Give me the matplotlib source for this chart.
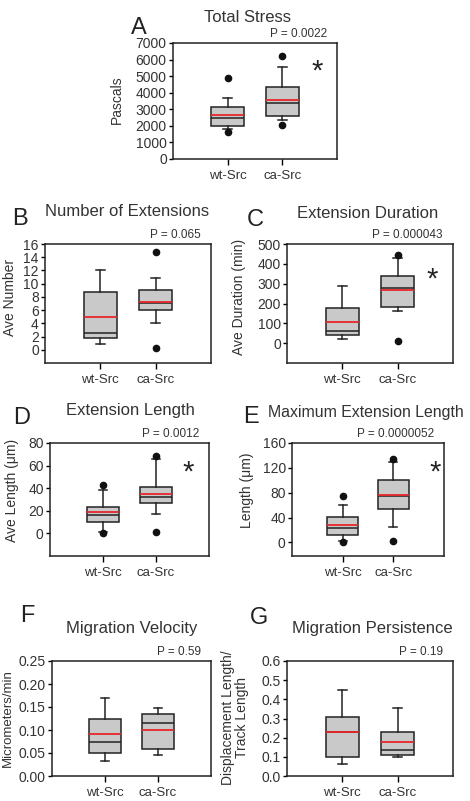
import numpy as np
import matplotlib.pyplot as plt
from matplotlib.ticker import FormatStrFormatter

plt.rcParams['font.family'] = ['Liberation Sans', 'DejaVu Sans']

groups = ['wt-Src', 'ca-Src']

# A - total stress (Pascals)
stress_q1 = [1970, 2570]
stress_med = [2470, 3380]
stress_q3 = [3140, 4345]
stress_lo = [1830, 2330]
stress_hi = [3680, 5550]
stress_mean = [2630, 3580]
stress_out = [[4890, 1600], [6230, 2070]]

# B - number of extensions
num_q1 = [1.8, 5.97]
num_med = [2.5, 7.1]
num_q3 = [8.76, 9.0]
num_lo = [0.9, 4.05]
num_hi = [12.05, 10.9]
num_mean = [4.9, 7.3]
num_out = [[], [14.8, 0.25]]

# C - extension duration (min)
dur_q1 = [39, 184]
dur_med = [59, 277]
dur_q3 = [176, 339]
dur_lo = [20, 160]
dur_hi = [289, 428]
dur_mean = [107, 268]
dur_out = [[], [444, 12]]

# D - extension length (um)
len_q1 = [9.8, 26.9]
len_med = [16.5, 31.8]
len_q3 = [23.4, 40.7]
len_lo = [0.9, 17.3]
len_hi = [38.4, 65.6]
len_mean = [19.3, 34.7]
len_out = [[42.5, 0], [68.4, 0.9]]

# E - maximum extension length (um)
max_q1 = [11.2, 53]
max_med = [22.5, 74]
max_q3 = [40.7, 100]
max_lo = [2.7, 24]
max_hi = [59.9, 129.5]
max_mean = [27.8, 76]
max_out = [[75.4, 0], [134, 2]]

# F - migration velocity
vel_q1 = [0.0507, 0.058]
vel_med = [0.0732, 0.1145]
vel_q3 = [0.124, 0.1355]
vel_lo = [0.032, 0.0457]
vel_hi = [0.170, 0.147]
vel_mean = [0.0906, 0.1007]
vel_out = [[], []]

# G - migration persistence
per_q1 = [0.10, 0.112]
per_med = [0.232, 0.135]
per_q3 = [0.31, 0.228]
per_lo = [0.061, 0.10]
per_hi = [0.451, 0.354]
per_mean = [0.232, 0.179]
per_out = [[], []]

W, H = 470, 801
fig = plt.figure(figsize=(W / 100, H / 100), dpi=100)


def ftext(x, y, s, **kw):
    fig.text(x / W, 1 - y / H, s, **kw)


def panel(box, q1, med, q3, lo, hi, mean, out, ylim, yticks, fmt,
          title, tx, ty, letter, lx, ly, pval, star=None, title_ha='center', tsize=12):
    l, t, r, b = box
    ax = fig.add_axes([l / W, 1 - b / H, (r - l) / W, (b - t) / H])
    stats = []
    for i in range(2):
        stats.append(dict(med=med[i], q1=q1[i], q3=q3[i], whislo=lo[i], whishi=hi[i],
                          mean=mean[i], fliers=np.array(out[i])))
    ax.bxp(stats, positions=[1, 2], widths=0.6, capwidths=0.16, patch_artist=True,
           showmeans=True, meanline=True,
           boxprops=dict(facecolor='#c9c9c9', edgecolor='#222222', linewidth=1.1),
           medianprops=dict(color='#222222', linewidth=1.1),
           meanprops=dict(color='#e8262b', linestyle='-', linewidth=1.3),
           whiskerprops=dict(color='#222222', linewidth=1.1),
           capprops=dict(color='#222222', linewidth=1.1),
           flierprops=dict(marker='o', markerfacecolor='#111111', markeredgecolor='#111111',
                           markersize=4.5))
    ax.set_xlim(0, 3)
    ax.set_ylim(*ylim)
    ax.set_yticks(yticks)
    ax.yaxis.set_major_formatter(FormatStrFormatter(fmt))
    ax.set_xticks([1, 2])
    ax.set_xticklabels(groups, fontsize=9.5, color='#333333')
    ax.tick_params(axis='y', labelsize=10, length=3, width=1, pad=1.5, labelcolor='#333333')
    ax.tick_params(axis='x', length=4, width=1, pad=4)
    for s in ax.spines.values():
        s.set_linewidth(1.1)
        s.set_color('#222222')
    ftext(tx, ty, title, fontsize=tsize, ha=title_ha, va='center', color='#333333')
    ftext(lx, ly, letter, fontsize=17, ha='center', va='center', color='#222222')
    ftext(r - 10, t - 3, 'P = ' + pval, fontsize=8.5, ha='right', va='bottom', color='#333333')
    if star:
        ftext(star[0], star[1], '*', fontsize=21, ha='center', va='center', color='#222222')
    return ax


panel((173, 43, 337, 159), stress_q1, stress_med, stress_q3, stress_lo, stress_hi,
      stress_mean, stress_out, (0, 7000), np.arange(0, 7001, 1000), '%d',
      'Total Stress', 247, 18, 'A', 139, 28, '0.0022', star=(317, 72))
ftext(117, 100, 'Pascals', fontsize=10, rotation=90, ha='center', va='center', color='#333333')

panel((45, 244, 211, 363), num_q1, num_med, num_q3, num_lo, num_hi,
      num_mean, num_out, (-2, 16), np.arange(0, 17, 2), '%d',
      'Number of Extensions', 127, 212, 'B', 20, 219, '0.065')
ftext(10, 297, 'Ave Number', fontsize=10, rotation=90, ha='center', va='center', color='#333333')

panel((287, 244, 453, 363), dur_q1, dur_med, dur_q3, dur_lo, dur_hi,
      dur_mean, dur_out, (-100, 500), np.arange(0, 501, 100), '%d',
      'Extension Duration', 368, 213, 'C', 255, 220, '0.000043', star=(432, 280))
ftext(239, 297, 'Ave Duration (min)', fontsize=10, rotation=90, ha='center', va='center', color='#333333')

panel((50, 443, 209, 556), len_q1, len_med, len_q3, len_lo, len_hi,
      len_mean, len_out, (-20, 80), np.arange(0, 81, 20), '%d',
      'Extension Length', 130, 410, 'D', 22, 418, '0.0012', star=(188, 473))
ftext(12, 490, 'Ave Length (\u03bcm)', fontsize=10, rotation=90, ha='center', va='center', color='#333333')

panel((292, 443, 444, 556), max_q1, max_med, max_q3, max_lo, max_hi,
      max_mean, max_out, (-22, 160), np.arange(0, 161, 40), '%d',
      'Maximum Extension Length', 268, 412, 'E', 251, 417, '0.0000052',
      star=(435, 473), title_ha='left', tsize=11.4)
ftext(247, 490, 'Length (\u03bcm)', fontsize=10, rotation=90, ha='center', va='center', color='#333333')

panel((52, 661, 211, 776), vel_q1, vel_med, vel_q3, vel_lo, vel_hi,
      vel_mean, vel_out, (0, 0.25), np.arange(0, 0.26, 0.05), '%.2f',
      'Migration Velocity', 132, 628, 'F', 27, 616, '0.59')
ftext(8, 718, 'Micrometers/min', fontsize=9.5, rotation=90, ha='center', va='center', color='#333333')

panel((287, 661, 453, 776), per_q1, per_med, per_q3, per_lo, per_hi,
      per_mean, per_out, (0, 0.6), np.arange(0, 0.61, 0.1), '%.1f',
      'Migration Persistence', 372, 628, 'G', 259, 618, '0.19')
ftext(235, 718, 'Displacement Length/\nTrack Length', fontsize=10, rotation=90,
      ha='center', va='center', color='#333333', linespacing=1.0)

fig.savefig('out.png', dpi=100)
